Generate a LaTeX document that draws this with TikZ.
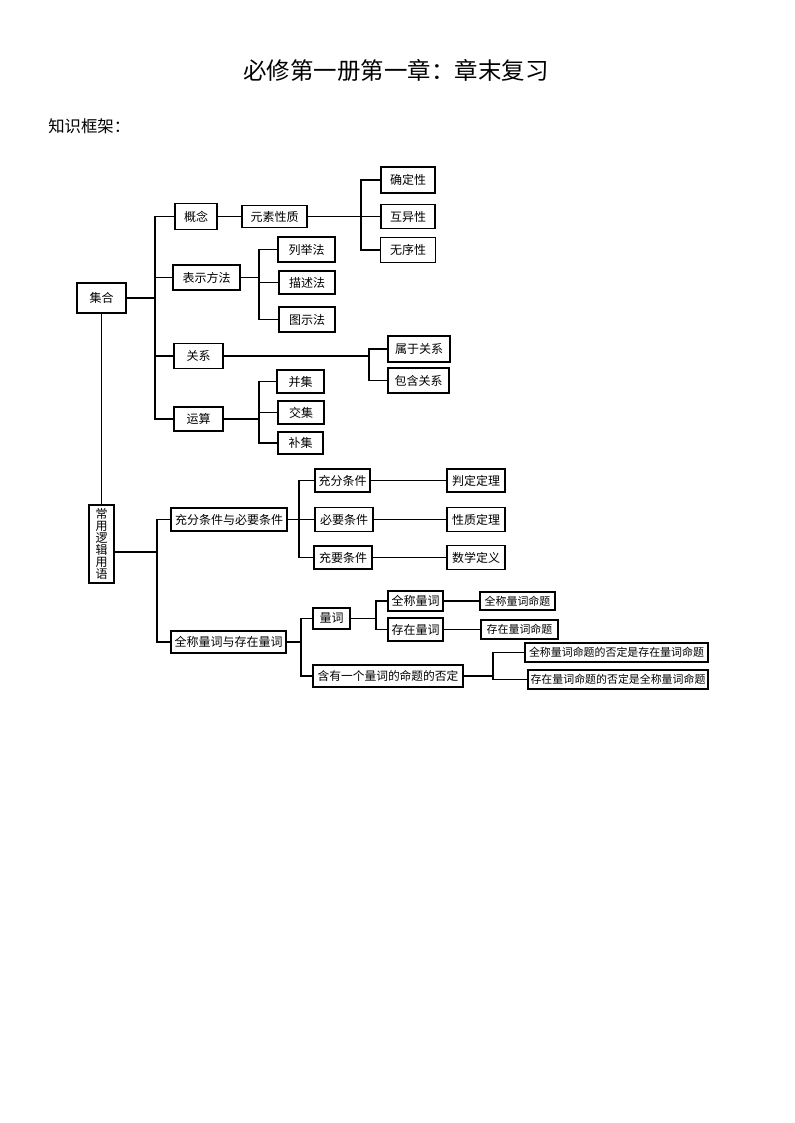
\documentclass[tikz,border=0pt]{standalone}
\usepackage{fontspec}
\setmainfont{Noto Sans CJK SC}
\begin{document}
\begin{tikzpicture}[x=0.75pt,y=-0.75pt,
  bx/.style={draw, line width=0.9pt, inner sep=1pt, font=\fontsize{9}{10}\selectfont},
  sbx/.style={bx, font=\fontsize{8.2}{9}\selectfont},
  ln/.style={line width=0.8pt}]
\useasboundingbox (0,0) rectangle (794,1123);
\node[font=\fontsize{17.6}{20}\selectfont] (title) at (396,70) {必修第一册第一章：章末复习};
\node[font=\fontsize{12.3}{14}\selectfont, anchor=west, inner sep=0] (sub) at (48,126) {知识框架：};
% nodes
\node[bx, minimum width=36.75pt, minimum height=22.5pt] (jihe) at (101.5,298) {集合};
\node[bx, minimum width=31.5pt, minimum height=19.5pt] (gainian) at (196,216.5) {概念};
\node[bx, minimum width=48.75pt, minimum height=16.5pt] (yuansu) at (274.5,216.5) {元素性质};
\node[bx, minimum width=40.5pt, minimum height=19.5pt] (queding) at (408,180) {确定性};
\node[bx, minimum width=40.5pt, minimum height=18pt] (huyi) at (408,216.5) {互异性};
\node[bx, minimum width=41.25pt, minimum height=18.75pt] (wuxu) at (408,250) {无序性};
\node[bx, minimum width=50.25pt, minimum height=18.75pt] (biaoshi) at (206.5,277.5) {表示方法};
\node[bx, minimum width=42.75pt, minimum height=18.75pt] (lieju) at (306.5,249.5) {列举法};
\node[bx, minimum width=42pt, minimum height=17.25pt] (miaoshu) at (307,282.5) {描述法};
\node[bx, minimum width=42pt, minimum height=18.75pt] (tushi) at (307,319.5) {图示法};
\node[bx, minimum width=36.75pt, minimum height=18.75pt] (guanxi) at (198.5,356) {关系};
\node[bx, minimum width=46.5pt, minimum height=19.5pt] (shuyu) at (419,349) {属于关系};
\node[bx, minimum width=45.75pt, minimum height=18.75pt] (baohan) at (418.5,380.5) {包含关系};
\node[bx, minimum width=35.25pt, minimum height=17.25pt] (bingji) at (300.5,381.5) {并集};
\node[bx, minimum width=34.5pt, minimum height=17.25pt] (jiaoji) at (301,412.5) {交集};
\node[bx, minimum width=33.75pt, minimum height=16.5pt] (buji) at (300.5,443) {补集};
\node[bx, minimum width=36.75pt, minimum height=18pt] (yunsuan) at (198.5,419) {运算};
\node[bx, minimum width=18.75pt, minimum height=58.5pt, align=center, font=\fontsize{9}{9.1}\selectfont] (changyong) at (101.5,544) {常\\用\\逻\\辑\\用\\语};
\node[bx, minimum width=87pt, minimum height=17.25pt] (chongfen) at (229,519.5) {充分条件与必要条件};
\node[bx, minimum width=41.25pt, minimum height=17.25pt] (cf) at (342.5,480.5) {充分条件};
\node[bx, minimum width=43.5pt, minimum height=18pt] (by) at (344,519.5) {必要条件};
\node[bx, minimum width=43.5pt, minimum height=17.25pt] (cy) at (343,557.5) {充要条件};
\node[bx, minimum width=43.5pt, minimum height=17.25pt] (pd) at (476,480.5) {判定定理};
\node[bx, minimum width=43.5pt, minimum height=18pt] (xz) at (476,519.5) {性质定理};
\node[bx, minimum width=43.5pt, minimum height=18pt] (sx) at (476,557.5) {数学定义};
\node[bx, minimum width=86.25pt, minimum height=16.5pt] (qc) at (228.5,642) {全称量词与存在量词};
\node[bx, minimum width=27.75pt, minimum height=15.75pt] (lc) at (331.5,618.5) {量词};
\node[bx, minimum width=41.25pt, minimum height=15pt] (qclc) at (415.5,601) {全称量词};
\node[bx, minimum width=41.25pt, minimum height=17.25pt] (czlc) at (415.5,629.5) {存在量词};
\node[bx, minimum width=112.5pt, minimum height=16.5pt, font=\fontsize{8.8}{10}\selectfont] (hy) at (388,676) {含有一个量词的命题的否定};
\node[sbx, minimum width=56.25pt, minimum height=13.5pt] (qcmt) at (517.5,601) {全称量词命题};
\node[sbx, minimum width=57.75pt, minimum height=14.25pt] (czmt) at (519.5,629.5) {存在量词命题};
\node[sbx, minimum width=137.25pt, minimum height=14.25pt] (f1) at (616.5,652.5) {全称量词命题的否定是存在量词命题};
\node[sbx, minimum width=135pt, minimum height=14.25pt] (f2) at (618,679.5) {存在量词命题的否定是全称量词命题};
% bracket junctions
\coordinate (b1) at (155,298);
\coordinate (b2) at (361,216.5);
\coordinate (b3) at (259,277.5);
\coordinate (b4) at (369,356);
\coordinate (b5) at (259,419);
\coordinate (b6) at (157,552);
\coordinate (b7) at (299,519.5);
\coordinate (b8) at (301,642);
\coordinate (b9) at (376,618.5);
\coordinate (b10) at (493,676);
% connectors
\draw[ln] (jihe.east) -- (b1);
\draw[ln] (gainian.west) -| (b1);
\draw[ln] (yunsuan.west) -| (b1);
\draw[ln] (biaoshi.west) -- (b1 |- biaoshi.west);
\draw[ln] (guanxi.west) -- (b1 |- guanxi.west);
\draw[ln] (jihe.south) -- (jihe.south |- changyong.north);
\draw[ln] (gainian.east) -- (yuansu.west);
\draw[ln] (yuansu.east) -- (b2);
\draw[ln] (queding.west) -| (b2);
\draw[ln] (wuxu.west) -| (b2);
\draw[ln] (huyi.west) -- (b2 |- huyi.west);
\draw[ln] (biaoshi.east) -- (b3);
\draw[ln] (lieju.west) -| (b3);
\draw[ln] (tushi.west) -| (b3);
\draw[ln] (miaoshu.west) -- (b3 |- miaoshu.west);
\draw[ln] (guanxi.east) -- (b4);
\draw[ln] (shuyu.west) -| (b4);
\draw[ln] (baohan.west) -| (b4);
\draw[ln] (yunsuan.east) -- (b5);
\draw[ln] (bingji.west) -| (b5);
\draw[ln] (buji.west) -| (b5);
\draw[ln] (jiaoji.west) -- (b5 |- jiaoji.west);
\draw[ln] (changyong.east |- b6) -- (b6);
\draw[ln] (chongfen.west) -| (b6);
\draw[ln] (qc.west) -| (b6);
\draw[ln] (chongfen.east) -- (b7);
\draw[ln] (cf.west) -| (b7);
\draw[ln] (cy.west) -| (b7);
\draw[ln] (by.west) -- (b7 |- by.west);
\draw[ln] (cf.east) -- (pd.west);
\draw[ln] (by.east) -- (xz.west);
\draw[ln] (cy.east) -- (sx.west);
\draw[ln] (qc.east) -- (b8);
\draw[ln] (lc.west) -| (b8);
\draw[ln] (hy.west) -| (b8);
\draw[ln] (lc.east) -- (b9);
\draw[ln] (qclc.west) -| (b9);
\draw[ln] (czlc.west) -| (b9);
\draw[ln] (qclc.east) -- (qcmt.west);
\draw[ln] (czlc.east) -- (czmt.west);
\draw[ln] (hy.east) -- (b10);
\draw[ln] (f1.west) -| (b10);
\draw[ln] (f2.west) -| (b10);
\end{tikzpicture}
\end{document}
